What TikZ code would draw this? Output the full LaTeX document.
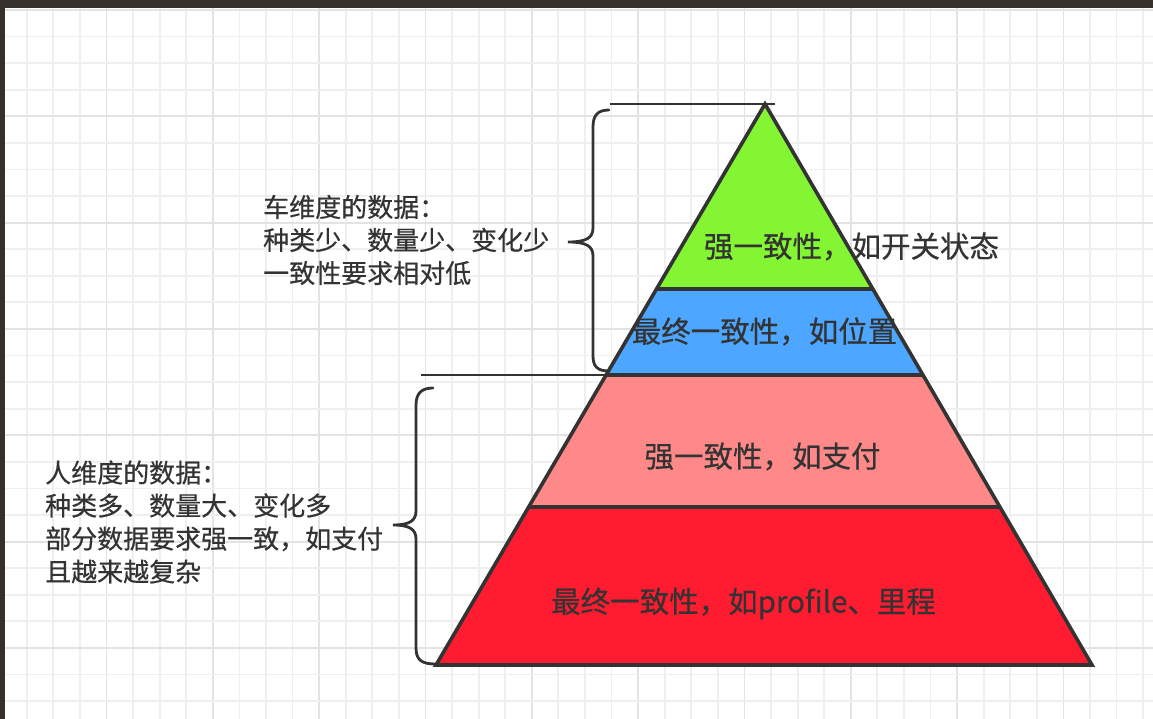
\documentclass[tikz,border=0pt]{standalone}
\usepackage{fontspec}
\setmainfont{Noto Sans CJK SC}
\newfontfamily\heavycjk[FakeBold=0.5]{Noto Sans CJK SC}
\usetikzlibrary{calc}
\definecolor{frame}{HTML}{35302B}
\definecolor{gridminor}{HTML}{EFEFEF}
\definecolor{gridmajor}{HTML}{E3E3E3}
\definecolor{ink}{HTML}{333333}
\definecolor{lvgreen}{HTML}{84F532}
\definecolor{lvblue}{HTML}{4DA6FF}
\definecolor{lvpink}{HTML}{FF8888}
\definecolor{lvred}{HTML}{FF1C30}
\tikzset{
  minorline/.style={draw=gridminor, line width=1.8pt},
  majorline/.style={draw=gridmajor, line width=1.8pt},
  outline/.style={draw=ink, line width=3.6pt},
  bracestyle/.style={draw=ink, line width=2.8pt, line cap=round},
  guide/.style={draw=ink, line width=2.8pt},
  leveltext/.style={text=ink, inner sep=0pt, font=\heavycjk\fontsize{29.5}{35}\selectfont},
  sidetext/.style={text=ink, inner sep=0pt, anchor=west, align=left, font=\heavycjk\fontsize{26}{33}\selectfont}
}
\begin{document}
\begin{tikzpicture}[x=1pt, y=-1pt]
\useasboundingbox (0,0) rectangle (1153,719);
\fill[white] (0,0) rectangle (1153,719);
% grid
\foreach \k in {0,...,43} {
  \pgfmathtruncatemacro{\m}{mod(\k,4)}
  \ifnum\m=0 \draw[majorline] ({0.2+26.58*\k},8) -- ({0.2+26.58*\k},719);
  \else \draw[minorline] ({0.2+26.58*\k},8) -- ({0.2+26.58*\k},719); \fi
}
\foreach \k in {0,...,27} {
  \pgfmathtruncatemacro{\m}{mod(\k,4)}
  \ifnum\m=0 \draw[majorline] (5,{10+26.58*\k}) -- (1153,{10+26.58*\k});
  \else \draw[minorline] (5,{10+26.58*\k}) -- (1153,{10+26.58*\k}); \fi
}
% frame
\fill[frame] (0,0) rectangle (1153,8);
\fill[frame] (0,0) rectangle (5,719);

% pyramid corners
\coordinate (apex) at (765,104);
\coordinate (bl) at (436,665);
\coordinate (br) at (1092,665);
\coordinate (l1) at ($(apex)!0.3298!(bl)$);
\coordinate (r1) at ($(apex)!0.3298!(br)$);
\coordinate (l2) at ($(apex)!0.4831!(bl)$);
\coordinate (r2) at ($(apex)!0.4831!(br)$);
\coordinate (l3) at ($(apex)!0.7184!(bl)$);
\coordinate (r3) at ($(apex)!0.7184!(br)$);

% guide lines
\coordinate (topend) at (610,104);
\coordinate (topend2) at (775,104);
\draw[guide] (topend) -- (topend2);
\coordinate (midend) at (421,375);
\draw[guide] (midend) -- (midend -| l2);

% fills
\fill[lvgreen] (apex) -- (l1) -- (r1) -- cycle;
\fill[lvblue] (l1) -- (l2) -- (r2) -- (r1) -- cycle;
\fill[lvpink] (l2) -- (l3) -- (r3) -- (r2) -- cycle;
\fill[lvred] (l3) -- (bl) -- (br) -- (r3) -- cycle;

% level labels
\node[leveltext] (t1) at (851.5,246.5) {强一致性，如开关状态};
\node[leveltext] (t2) at (764.5,331.5) {最终一致性，如位置};
\node[leveltext] (t3) at (762.5,456.5) {强一致性，如支付};
\node[leveltext] (t4) at (743.5,603.5) {最终一致性，如profile、里程};

% outlines
\draw[outline] (apex) -- (bl) -- (br) -- cycle;
\draw[outline] (l1) -- (r1);
\draw[outline] (l2) -- (r2);
\draw[outline] (l3) -- (r3);

% upper brace
\draw[bracestyle] (609,110) .. controls (598,110) and (593,115) .. (593,127)
  -- (593,228) .. controls (593,238) and (586,242) .. (568,242)
  .. controls (586,242) and (593,246) .. (593,256)
  -- (593,356) .. controls (593,367) and (598,371) .. (609,371);
% lower brace
\draw[bracestyle] (433,388) .. controls (422,388) and (416,393) .. (416,405)
  -- (416,511) .. controls (416,521) and (409,525) .. (393,525)
  .. controls (409,525) and (416,529) .. (416,539)
  -- (416,648) .. controls (416,660) and (422,664) .. (435,664);

% side texts
\node[sidetext] (car) at (263,240) {车维度的数据：\\种类少、数量少、变化少\\一致性要求相对低};
\node[sidetext] (person) at (45,522) {人维度的数据：\\种类多、数量大、变化多\\部分数据要求强一致，如支付\\且越来越复杂};
\end{tikzpicture}
\end{document}
